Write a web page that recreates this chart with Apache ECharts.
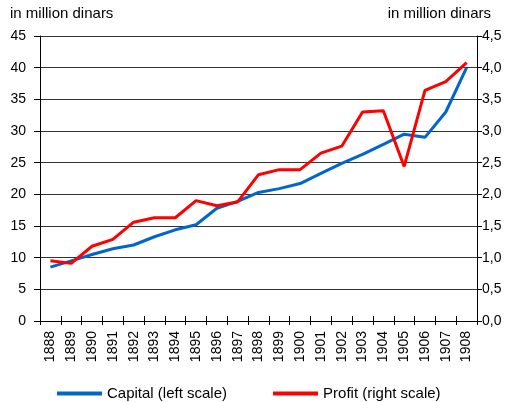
<!DOCTYPE html>
<html>
<head>
<meta charset="utf-8">
<script src="https://cdn.jsdelivr.net/npm/echarts@6/dist/echarts.min.js"></script>
<style>
  html, body { margin: 0; padding: 0; background: #fff; }
  #chart { width: 512px; height: 402px; }
</style>
</head>
<body>
<div id="chart"></div>
<script>
// years on the category axis
var years = ['1888','1889','1890','1891','1892','1893','1894','1895','1896','1897','1898',
             '1899','1900','1901','1902','1903','1904','1905','1906','1907','1908'];
// capital, left scale (million dinars)
var capital = [8.5, 9.5, 10.5, 11.4, 12.0, 13.3, 14.4, 15.2, 17.8, 18.9, 20.3,
               20.9, 21.7, 23.3, 24.9, 26.3, 27.9, 29.5, 29.0, 33.0, 40.0];
// profit, right scale (million dinars)
var profit = [0.95, 0.91, 1.18, 1.29, 1.56, 1.63, 1.63, 1.90, 1.82, 1.88, 2.31,
              2.39, 2.39, 2.65, 2.76, 3.30, 3.32, 2.44, 3.64, 3.78, 4.08];

var font = 'Liberation Sans, Arial, sans-serif';
var myChart = echarts.init(document.getElementById('chart'));

var option = {
  animation: false,
  textStyle: { fontFamily: font },
  graphic: [
    { type: 'text', left: 10, top: 6, style: { text: 'in million dinars', fontSize: 15, fill: '#000', fontFamily: font } },
    { type: 'text', right: 21, top: 6, style: { text: 'in million dinars', fontSize: 15, fill: '#000', fontFamily: font } }
  ],
  legend: {
    left: 52,
    top: 381,
    itemWidth: 45,
    itemHeight: 4,
    itemGap: 46,
    icon: 'rect',
    textStyle: { fontSize: 15, color: '#000', fontFamily: font },
    data: ['Capital (left scale)', 'Profit (right scale)']
  },
  grid: { left: 40, right: 35, top: 36, bottom: 81 },
  xAxis: [
    {
      type: 'category',
      data: years,
      boundaryGap: true,
      axisLine: { lineStyle: { color: '#000', width: 1 } },
      axisTick: { show: true, interval: 0, length: 4, lineStyle: { color: '#000' } },
      axisLabel: { rotate: 90, interval: 0, fontSize: 14, color: '#000', margin: 10 }
    },
    {
      // second copy of the axis to draw the upper half of the crossing ticks
      type: 'category',
      data: years,
      position: 'bottom',
      boundaryGap: true,
      axisLine: { show: false },
      axisTick: { show: true, inside: true, interval: 0, length: 5, lineStyle: { color: '#000' } },
      axisLabel: { show: false }
    }
  ],
  yAxis: [
    {
      type: 'value', min: 0, max: 45, interval: 5,
      axisLine: { show: true, lineStyle: { color: '#000' } },
      axisTick: { show: true, length: 6, lineStyle: { color: '#000' } },
      axisLabel: { fontSize: 14, color: '#000', margin: 14 },
      splitLine: { lineStyle: { color: '#333', width: 1 } }
    },
    {
      type: 'value', min: 0, max: 4.5, interval: 0.5, position: 'right',
      axisLine: { show: true, lineStyle: { color: '#000' } },
      axisTick: { show: true, length: 5, lineStyle: { color: '#000' } },
      axisLabel: {
        fontSize: 14, color: '#000', margin: 5,
        formatter: function (v) { return v.toFixed(1).replace('.', ','); }
      },
      splitLine: { show: false }
    }
  ],
  series: [
    {
      name: 'Capital (left scale)', type: 'line', yAxisIndex: 0,
      data: capital, showSymbol: false, symbol: 'none',
      lineStyle: { color: '#0066cc', width: 3 }, itemStyle: { color: '#0066cc' }
    },
    {
      name: 'Profit (right scale)', type: 'line', yAxisIndex: 1,
      data: profit, showSymbol: false, symbol: 'none',
      lineStyle: { color: '#ff0000', width: 3 }, itemStyle: { color: '#ff0000' }
    }
  ]
};
myChart.setOption(option);
</script>
</body>
</html>
